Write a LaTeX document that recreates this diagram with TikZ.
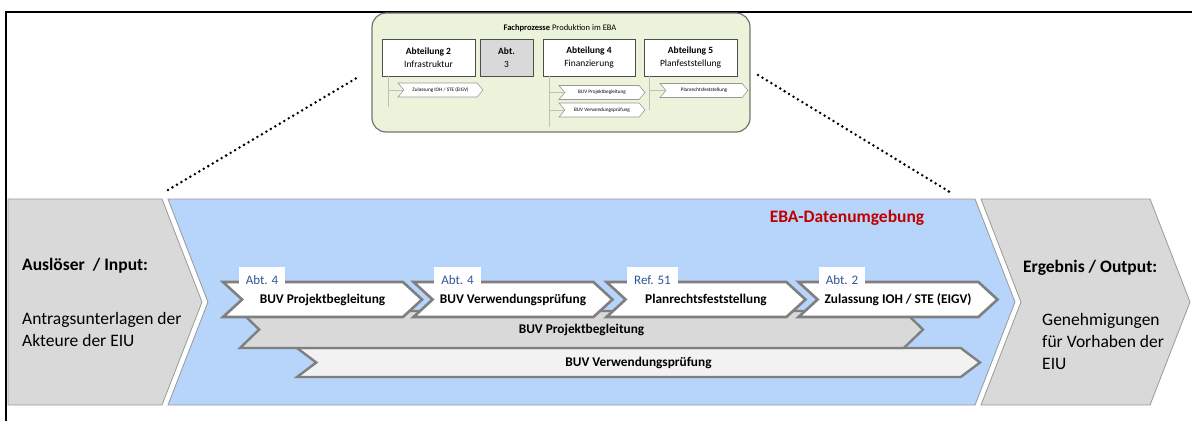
\documentclass[tikz,border=0pt]{standalone}
\usepackage{fontspec}
\setmainfont{Carlito}
\usetikzlibrary{shapes.symbols}
\definecolor{ebablue}{RGB}{183,212,250}
\definecolor{insetgreen}{RGB}{235,244,218}
\definecolor{abtblue}{RGB}{47,85,151}
\definecolor{ebared}{RGB}{192,0,0}
\definecolor{chevgray}{RGB}{127,127,127}
\begin{document}
\begin{tikzpicture}[x=1pt,y=-1pt,
  bigchev/.style={signal, signal to=east, signal pointer angle=137.6, draw=black!40, line width=0.8pt, inner sep=0pt, minimum height=206pt},
  stepchev/.style={signal, signal from=west, signal to=east, signal pointer angle=85, draw=chevgray, line width=2.6pt, fill=white, inner sep=0pt, minimum height=35pt, minimum width=199pt, font=\fontsize{13.3}{15}\selectfont\bfseries},
  longchev/.style={signal, signal from=west, signal to=east, draw=chevgray, line width=2.4pt, inner sep=0pt, minimum width=683pt, font=\fontsize{13.3}{15}\selectfont\bfseries},
  abttag/.style={anchor=north, fill=white, inner xsep=7pt, inner ysep=0pt, minimum height=25pt, text=abtblue, font=\fontsize{13}{15}\selectfont},
  abtbox/.style={draw=black!70, line width=0.8pt, fill=white, inner sep=0pt, minimum height=37pt, align=center, font=\fontsize{9.5}{12.5}\selectfont},
  minichev/.style={signal, signal from=west, signal to=east, signal pointer angle=100, draw=black!40, line width=0.6pt, fill=white, inner sep=0pt, minimum height=14pt, font=\fontsize{5.2}{6}\selectfont},
  treeline/.style={draw=black!25, line width=0.6pt},
  zoomline/.style={line width=2.8pt, dash pattern=on 0pt off 5.2pt, line cap=round},
  sidetext/.style={anchor=west, inner sep=0pt, align=left, font=\fontsize{17.5}{22}\selectfont}
]
\useasboundingbox (0,0) rectangle (1192,421);
\draw[line width=2pt] (6,421) -- (6,12) -- (1192,12);

% Ausschnitt Fachprozesse
\node[rounded corners=14pt, draw=black!55, line width=1.2pt, fill=insetgreen, minimum width=378pt, minimum height=119pt] (inset) at (561,72.5) {};
\node[font=\fontsize{8.5}{10}\selectfont] (insettitle) at (560,28) {\textbf{Fachprozesse} Produktion im EBA};
\node[abtbox, minimum width=93pt] (ab2) at (428.5,57.5) {\textbf{Abteilung 2}\\Infrastruktur};
\node[abtbox, minimum width=53pt, fill=black!15] (ab3) at (506.5,57.5) {\textbf{Abt.}\\3};
\node[abtbox, minimum width=92pt] (ab4) at (589,57.5) {\textbf{Abteilung 4}\\Finanzierung};
\node[abtbox, minimum width=93pt] (ab5) at (690.5,57.5) {\textbf{Abteilung 5}\\Planfeststellung};
\node[minichev, minimum width=85pt] (mzul) at (440.5,90) {Zulassung IOH / STE (EIGV)};
\node[minichev, minimum width=86pt] (mpb) at (602,92.5) {BUV Projektbegleitung};
\node[minichev, minimum width=86pt] (mvp) at (602,110) {BUV Verwendungsprüfung};
\node[minichev, minimum width=88pt] (mpf) at (704,90.5) {Planrechtsfeststellung};
\coordinate (t2) at (388,107);
\coordinate (t4) at (549,127);
\coordinate (t5) at (649,110);
\draw[treeline] (t2 |- ab2.south) -- (t2);
\draw[treeline] (t2 |- mzul.west) -- (mzul.west);
\draw[treeline] (t4 |- ab4.south) -- (t4);
\draw[treeline] (t4 |- mpb.west) -- (mpb.west);
\draw[treeline] (t4 |- mvp.west) -- (mvp.west);
\draw[treeline] (t5 |- ab5.south) -- (t5);
\draw[treeline] (t5 |- mpf.west) -- (mpf.west);

% Zoomlinien
\coordinate (zla) at (168,190);
\coordinate (zlb) at (360,76);
\coordinate (zra) at (758,75);
\coordinate (zrb) at (953,194);
\draw[zoomline] (zla) -- (zlb);
\draw[zoomline] (zra) -- (zrb);

% Input / EBA / Output
\draw[draw=black!40, line width=0.8pt, fill=black!15] (8,199) -- (162,199) -- (202,302) -- (162,405) -- (8,405) -- cycle;
\node[bigchev, signal from=west, fill=ebablue, minimum width=847pt] (eba) at (591.5,302) {};
\node[bigchev, signal from=west, fill=black!15, minimum width=209pt] (output) at (1085.5,302) {};
\node[sidetext, font=\fontsize{17.5}{22}\selectfont\bfseries] (intitle) at (22,266) {Auslöser\ \ / Input:};
\node[sidetext] (intext) at (22,329) {Antragsunterlagen der\\Akteure der EIU};
\node[sidetext, font=\fontsize{17.5}{22}\selectfont\bfseries] (outtitle) at (1023,268) {Ergebnis / Output:};
\node[sidetext] (outtext) at (1042,341.5) {Genehmigungen\\für Vorhaben der\\EIU};
\node[font=\fontsize{17.5}{21}\selectfont\bfseries, text=ebared] (ebatitle) at (847,218) {EBA-Datenumgebung};

% Prozessschritte
\node[longchev, signal pointer angle=74, fill=black!5, minimum height=29pt] (lvp) at (638.5,362.5) {BUV Verwendungsprüfung};
\node[longchev, signal pointer angle=88, fill=black!15, minimum height=37pt] (lpb) at (581.5,329.5) {BUV Projektbegleitung};
\node[stepchev] (spb) at (322.5,299.5) {BUV Projektbegleitung};
\node[stepchev] (svp) at (513,299.5) {BUV Verwendungsprüfung};
\node[stepchev] (spf) at (706,299.5) {Planrechtsfeststellung};
\node[stepchev] (szul) at (898,299.5) {Zulassung IOH / STE (EIGV)};
\node[abttag] (tpb) at (262,267) {Abt. 4};
\node[abttag] (tvp) at (457.5,267) {Abt. 4};
\node[abttag] (tpf) at (652.5,267) {Ref. 51};
\node[abttag] (tzul) at (842,267) {Abt. 2};
\end{tikzpicture}
\end{document}
